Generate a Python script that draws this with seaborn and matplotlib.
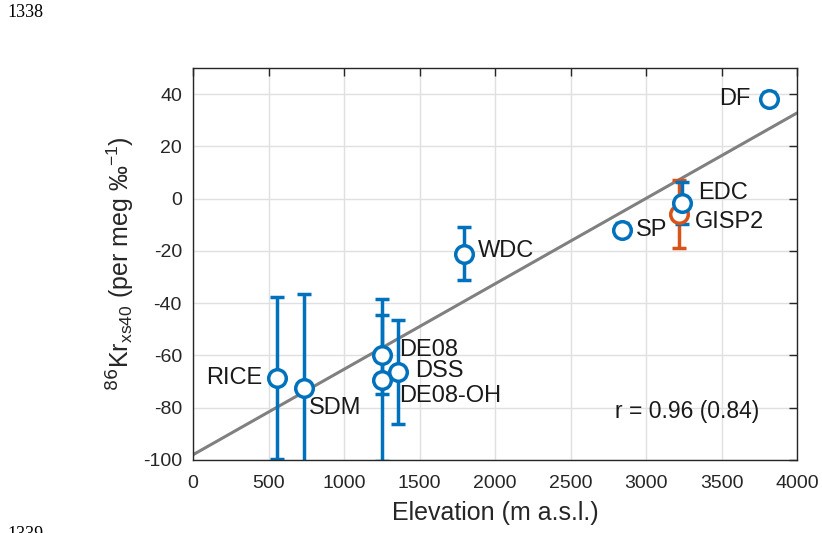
import numpy as np
import pandas as pd
import matplotlib
matplotlib.use("Agg")
import matplotlib.pyplot as plt
import seaborn as sns

sites = ["RICE", "SDM", "DE08", "DE08-OH", "DSS", "WDC", "SP", "EDC", "GISP2", "DF"]
elevation = [556, 735, 1250, 1250, 1358, 1795, 2839, 3236, 3216, 3815]
kr86 = [-68.5, -72.3, -59.7, -69.5, -66.4, -21.0, -11.9, -1.8, -5.7, 38.3]
kr86_err = [31, 36, 15, 31, 20, 10, 2.5, 8, 13, 2.5]
hemisphere = ["S", "S", "S", "S", "S", "S", "S", "S", "N", "S"]
fit_intercept = -98.0
fit_slope = 0.0327
fit_x = [0, 4000]

df = pd.DataFrame(dict(site=sites, elev=elevation, kr=kr86, err=kr86_err, hemi=hemisphere))
line_df = pd.DataFrame(dict(x=fit_x, y=[fit_intercept + fit_slope * v for v in fit_x]))

sns.set_theme(style="white")
plt.rcParams["font.family"] = ["Liberation Sans", "DejaVu Sans"]
plt.rcParams["axes.unicode_minus"] = False

fig = plt.figure(figsize=(8.22, 5.33), dpi=100)
ax = fig.add_axes([0.2348, 0.137, 0.7348, 0.7354])

blue = "#0072BD"
orange = "#D95319"
colors = {"S": blue, "N": orange}

sns.lineplot(data=line_df, x="x", y="y", ax=ax, color="#808080", lw=2.2, zorder=1)

order = list(df.index[df.hemi == "N"]) + list(df.index[df.hemi == "S"])
for i in order:
    r = df.loc[i]
    ax.errorbar(r.elev, r.kr, yerr=r.err, fmt="none", ecolor=colors[r.hemi],
                elinewidth=2.5, capsize=5, capthick=2.5, zorder=2)
    sns.scatterplot(x=[r.elev], y=[r.kr], ax=ax, s=160, marker="o",
                    facecolor="white", edgecolor=colors[r.hemi], linewidth=2.5,
                    zorder=3, legend=False)

ax.set_xlim(0, 4000)
ax.set_ylim(-100, 50)
ax.set_xticks(np.arange(0, 4001, 500))
ax.set_yticks(np.arange(-100, 41, 20))
ax.grid(True, color="#e0e0e0", lw=1)
ax.set_axisbelow(True)
ax.tick_params(direction="in", length=6, width=1, colors="#262626",
               top=True, right=True, labelsize=14)
ax.tick_params(axis="x", pad=11)
ax.tick_params(axis="y", pad=8)
for s in ax.spines.values():
    s.set_color("#262626")
    s.set_linewidth(1)
ax.set_xlabel("Elevation (m a.s.l.)", fontsize=18, color="#262626", labelpad=6)
ax.set_ylabel("$^{86}$Kr$_{\\mathregular{xs40}}$ (per meg ‰$^{\\mathregular{-1}}$)",
              fontsize=18, color="#262626", labelpad=4)

lab = dict(fontsize=17, color="#1a1a1a")
ax.text(457, -68.5, "RICE", ha="right", va="center", **lab)
ax.text(768, -80, "SDM", ha="left", va="center", **lab)
ax.text(1364, -58, "DE08", ha="left", va="center", **lab)
ax.text(1470, -66, "DSS", ha="left", va="center", **lab)
ax.text(1364, -75.5, "DE08-OH", ha="left", va="center", **lab)
ax.text(1887, -20, "WDC", ha="left", va="center", **lab)
ax.text(2934, -12, "SP", ha="left", va="center", **lab)
ax.text(3344, 2.3, "EDC", ha="left", va="center", **lab)
ax.text(3325, -9, "GISP2", ha="left", va="center", **lab)
ax.text(3689, 38, "DF", ha="right", va="center", **lab)
ax.text(2795, -81.5, "r = 0.96 (0.84)", ha="left", va="center", fontsize=16.5, color="#1a1a1a")

fig.text(0.009, 0.977, "1338", fontsize=13, family=["Liberation Serif", "DejaVu Serif"],
         color="black", va="center")
fig.text(0.009, -0.012, "1339", fontsize=13, family=["Liberation Serif", "DejaVu Serif"], color="black")

fig.savefig("out.png", dpi=100)
